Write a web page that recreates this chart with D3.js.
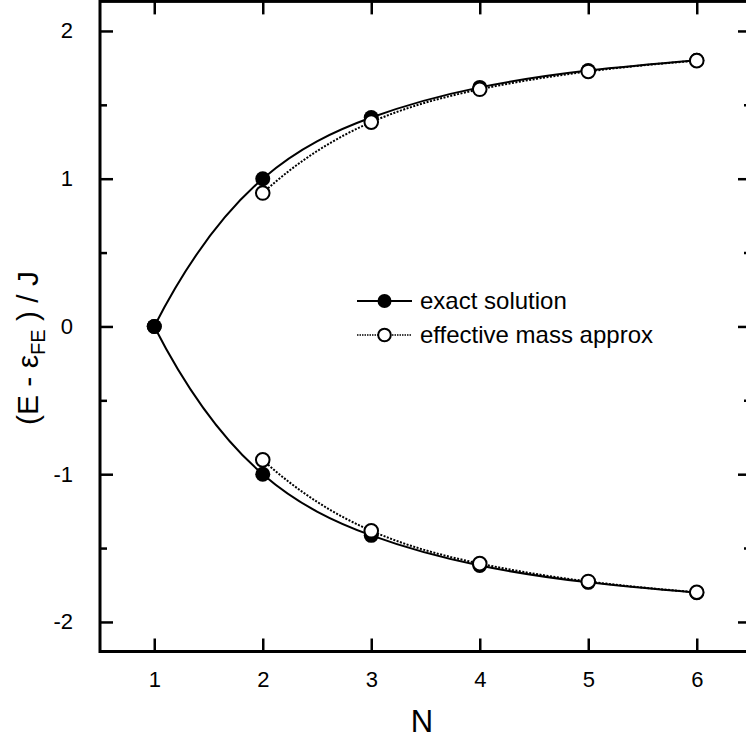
<!DOCTYPE html>
<html>
<head>
<meta charset="utf-8">
<script src="https://cdn.jsdelivr.net/npm/d3@7"></script>
<style>
  body { margin: 0; background: #fff; }
  svg { display: block; font-family: "Liberation Sans", Arial, sans-serif; }
</style>
</head>
<body>
<div id="chart"></div>
<script>
// data
var N_EXACT = [1, 2, 3, 4, 5, 6];
var EXACT_UP = [0, 1.0, 1.414, 1.618, 1.732, 1.802];
var EXACT_DOWN = [0, -1.0, -1.414, -1.618, -1.732, -1.802];
var N_EFF = [2, 3, 4, 5, 6];
var EFF_UP = [0.903, 1.383, 1.605, 1.726, 1.799];
var EFF_DOWN = [-0.903, -1.383, -1.605, -1.726, -1.799];
var X_TICKS = [1, 2, 3, 4, 5, 6];
var Y_TICKS = [-2, -1, 0, 1, 2];
var Y_MINOR = [-1.5, -0.5, 0.5, 1.5];
var LEGEND = ["exact solution", "effective mass approx"];

var W = 746, H = 739;
var PL = 100, PR = 751, PT = 1.4, PB = 651.5;

var x = d3.scaleLinear().domain([0.5, 6.5]).range([PL, PR]);
var y = d3.scaleLinear().domain([-2.2, 2.2]).range([PB, PT]);

var svg = d3.select("#chart").append("svg")
    .attr("width", W)
    .attr("height", H);

// cubic spline (not-a-knot ends) -> slopes at each point
function splineSlopes(xs, ys) {
  var n = xs.length, h = [], i, j, k;
  for (i = 0; i < n - 1; i++) h.push(xs[i + 1] - xs[i]);
  var A = [], b = [];
  for (i = 0; i < n; i++) { A.push(new Array(n).fill(0)); b.push(0); }
  // not-a-knot at both ends
  A[0][0] = h[1]; A[0][1] = -(h[0] + h[1]); A[0][2] = h[0];
  A[n-1][n-3] = h[n-2]; A[n-1][n-2] = -(h[n-3] + h[n-2]); A[n-1][n-1] = h[n-3];
  for (i = 1; i < n - 1; i++) {
    A[i][i-1] = h[i-1]; A[i][i] = 2 * (h[i-1] + h[i]); A[i][i+1] = h[i];
    b[i] = 6 * ((ys[i+1] - ys[i]) / h[i] - (ys[i] - ys[i-1]) / h[i-1]);
  }
  // gaussian elimination with pivoting
  for (k = 0; k < n; k++) {
    var p = k;
    for (i = k + 1; i < n; i++) if (Math.abs(A[i][k]) > Math.abs(A[p][k])) p = i;
    var t = A[k]; A[k] = A[p]; A[p] = t;
    var tb = b[k]; b[k] = b[p]; b[p] = tb;
    for (i = k + 1; i < n; i++) {
      var f = A[i][k] / A[k][k];
      for (j = k; j < n; j++) A[i][j] -= f * A[k][j];
      b[i] -= f * b[k];
    }
  }
  var M = new Array(n).fill(0);
  for (i = n - 1; i >= 0; i--) {
    var s = b[i];
    for (j = i + 1; j < n; j++) s -= A[i][j] * M[j];
    M[i] = s / A[i][i];
  }
  var m = [];
  for (i = 0; i < n - 1; i++) m.push((ys[i+1] - ys[i]) / h[i] - h[i] * (2 * M[i] + M[i+1]) / 6);
  m.push((ys[n-1] - ys[n-2]) / h[n-2] + h[n-2] * (M[n-2] + 2 * M[n-1]) / 6);
  return m;
}

function splinePath(xs, ys) {
  var m = splineSlopes(xs, ys);
  var path = d3.path();
  path.moveTo(x(xs[0]), y(ys[0]));
  for (var i = 0; i < xs.length - 1; i++) {
    var h = xs[i+1] - xs[i];
    path.bezierCurveTo(
      x(xs[i] + h / 3), y(ys[i] + m[i] * h / 3),
      x(xs[i+1] - h / 3), y(ys[i+1] - m[i+1] * h / 3),
      x(xs[i+1]), y(ys[i+1]));
  }
  return path.toString();
}

function pts(xs, ys) {
  return xs.map(function(v, i) { return {x: v, y: ys[i]}; });
}

// axes (ticks inward on all four sides)
var TICK = 13, MINOR = 7;
function styleAxis(g) {
  g.select(".domain").remove();
  g.attr("font-size", 22).attr("font-family", "Liberation Sans, Arial, sans-serif");
  g.selectAll(".tick line").attr("stroke", "#000").attr("stroke-width", 2.5);
  g.selectAll(".tick text").attr("fill", "#000");
}
var fmt = function(d) { return String(d); };

svg.append("g").attr("transform", "translate(0," + PB + ")")
  .call(d3.axisBottom(x).tickValues(X_TICKS).tickFormat(fmt).tickSizeInner(-TICK).tickSizeOuter(0).tickPadding(20))
  .call(styleAxis);
svg.append("g").attr("transform", "translate(0," + PT + ")")
  .call(d3.axisTop(x).tickValues(X_TICKS).tickFormat("").tickSizeInner(-TICK).tickSizeOuter(0))
  .call(styleAxis);
svg.append("g").attr("transform", "translate(" + PL + ",0)")
  .call(d3.axisLeft(y).tickValues(Y_TICKS).tickFormat(fmt).tickSizeInner(-TICK).tickSizeOuter(0).tickPadding(27))
  .call(styleAxis);
svg.append("g").attr("transform", "translate(" + PL + ",0)")
  .call(d3.axisLeft(y).tickValues(Y_MINOR).tickFormat("").tickSizeInner(-MINOR).tickSizeOuter(0))
  .call(styleAxis);
svg.append("g").attr("transform", "translate(" + PR + ",0)")
  .call(d3.axisRight(y).tickValues(Y_TICKS).tickFormat("").tickSizeInner(-TICK).tickSizeOuter(0))
  .call(styleAxis);
svg.append("g").attr("transform", "translate(" + PR + ",0)")
  .call(d3.axisRight(y).tickValues(Y_MINOR).tickFormat("").tickSizeInner(-MINOR).tickSizeOuter(0))
  .call(styleAxis);

// frame
svg.append("rect")
    .attr("x", PL).attr("y", PT)
    .attr("width", PR - PL).attr("height", PB - PT)
    .attr("fill", "none").attr("stroke", "#000").attr("stroke-width", 3);

// curves
[EXACT_UP, EXACT_DOWN].forEach(function(ys) {
  svg.append("path")
      .attr("d", splinePath(N_EXACT, ys)).attr("fill", "none")
      .attr("stroke", "#000").attr("stroke-width", 2);
});
[EFF_UP, EFF_DOWN].forEach(function(ys) {
  svg.append("path")
      .attr("d", splinePath(N_EFF, ys)).attr("fill", "none")
      .attr("stroke", "#000").attr("stroke-width", 2)
      .attr("stroke-dasharray", "2,1.5");
});

// markers
[EXACT_UP, EXACT_DOWN].forEach(function(ys) {
  svg.append("g").selectAll("circle").data(pts(N_EXACT, ys)).enter()
    .append("circle")
      .attr("cx", function(d) { return x(d.x); })
      .attr("cy", function(d) { return y(d.y); })
      .attr("r", 7.5).attr("fill", "#000");
});
[EFF_UP, EFF_DOWN].forEach(function(ys) {
  svg.append("g").selectAll("circle").data(pts(N_EFF, ys)).enter()
    .append("circle")
      .attr("cx", function(d) { return x(d.x); })
      .attr("cy", function(d) { return y(d.y); })
      .attr("r", 6.8).attr("fill", "#fff")
      .attr("stroke", "#000").attr("stroke-width", 2);
});

// legend
var lg = svg.append("g");
LEGEND.forEach(function(name, i) {
  var ly = 301 + i * 34;
  var row = lg.append("g");
  row.append("line").attr("x1", 357).attr("x2", 412).attr("y1", ly).attr("y2", ly)
      .attr("stroke", "#000").attr("stroke-width", i === 0 ? 2 : 1.6)
      .attr("stroke-dasharray", i === 0 ? null : "1.5,1");
  row.append("circle").attr("cx", 384.5).attr("cy", ly)
      .attr("r", i === 0 ? 7 : 6.3)
      .attr("fill", i === 0 ? "#000" : "#fff")
      .attr("stroke", "#000").attr("stroke-width", i === 0 ? 0 : 2);
  row.append("text").attr("x", 420).attr("y", ly + 8)
      .attr("font-size", 24).text(name);
});

// axis titles
svg.append("text")
    .attr("x", 422).attr("y", 732)
    .attr("text-anchor", "middle").attr("font-size", 31)
    .text("N");

var yt = svg.append("text")
    .attr("transform", "translate(38,348) rotate(-90)")
    .attr("text-anchor", "middle").attr("font-size", 30);
yt.append("tspan").text("(E - \u03b5");
yt.append("tspan").attr("font-size", 20).attr("dy", 7).text("FE");
yt.append("tspan").attr("dy", -7).text(" ) / J");
</script>
</body>
</html>
